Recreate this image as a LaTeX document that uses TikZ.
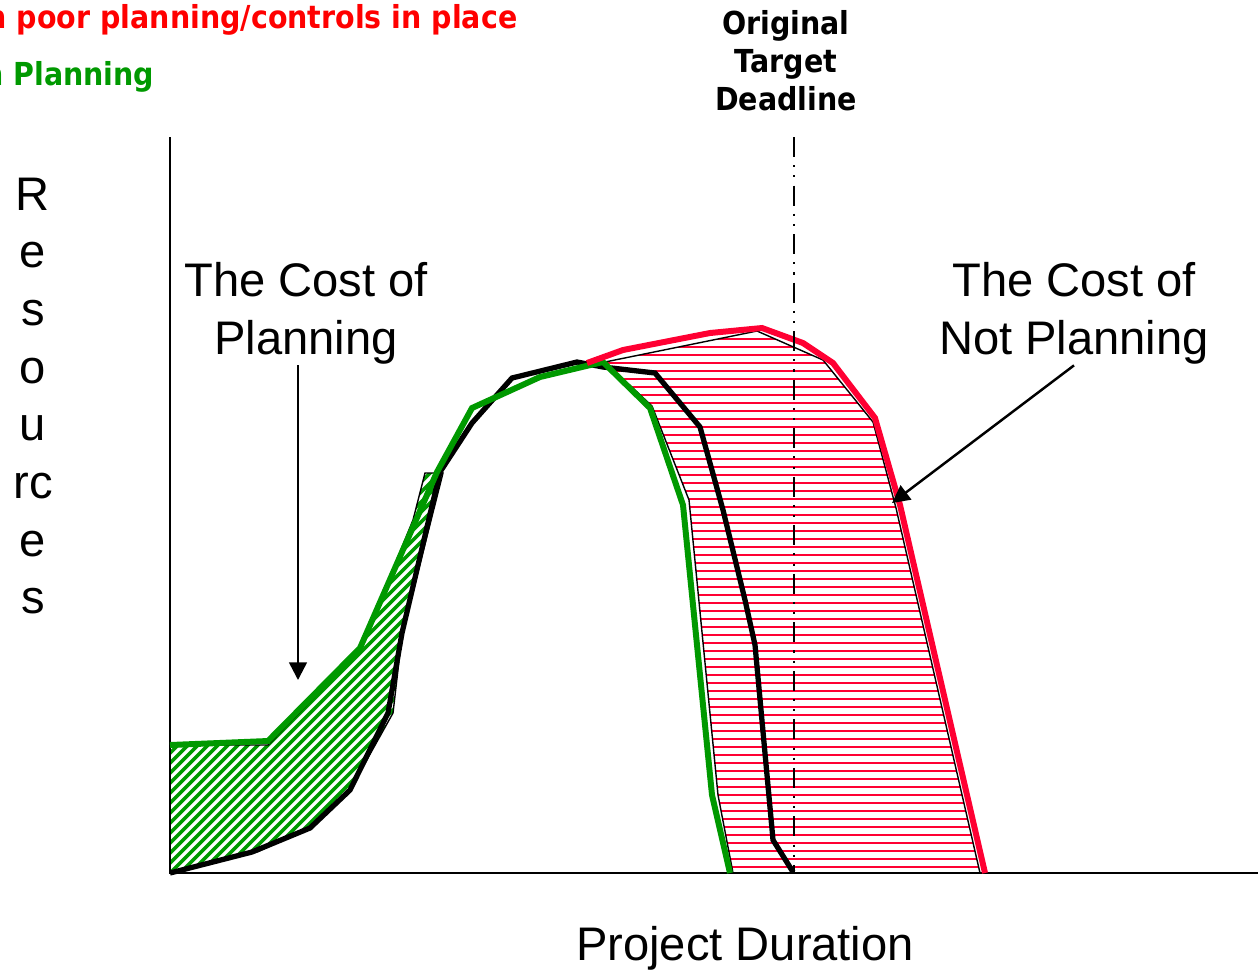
\documentclass[tikz,border=0pt]{standalone}
\usepackage{fontspec}
\setmainfont{Liberation Sans}
\newfontfamily\tahoma[FakeStretch=0.9]{DejaVu Sans}
\usetikzlibrary{arrows.meta}
\definecolor{planred}{RGB}{255,0,51}
\definecolor{textred}{RGB}{255,0,0}
\definecolor{plangreen}{RGB}{0,153,0}
\tikzset{
  bigtext/.style={font=\fontsize{13.4}{16.5}\selectfont, align=center, inner sep=0pt},
  boldtext/.style={font=\tahoma\bfseries\fontsize{9}{10.7}\selectfont, inner sep=0pt},
  hatchline/.style={line width=1pt},
}
\begin{document}
\begin{tikzpicture}[x=0.01cm,y=-0.01cm,>={Triangle[length=5pt,width=5pt]}]
\useasboundingbox (0,0) rectangle (1258,972);
% cost of planning
\begin{scope}
\clip (170,873) -- (170,745) -- (268,745) -- (360,650) -- (413,520) -- (425,473) -- (443,473) -- (402,635) -- (393,713) -- (350,790) -- (310,828) -- (257,852) -- cycle;
\foreach \c in {-240,-230,...,450} \draw[plangreen,hatchline] (\c,873) -- ++(420,-420);
\end{scope}
\draw[line width=0.4pt] (170,873) -- (170,745) -- (268,745) -- (360,650) -- (413,520) -- (425,473) -- (443,473) -- (402,635) -- (393,713) -- (350,790) -- (310,828) -- (257,852) -- cycle;
% cost of not planning
\begin{scope}
\clip (605,362) -- (652,406) -- (689,500) -- (718,795) -- (733,873) -- (980,873) -- (896,508) -- (873,422) -- (823,360) -- (757,331) -- cycle;
\foreach \y in {867,859,...,330} \draw[planred,line width=0.5pt] (600,\y) -- (990,\y);
\end{scope}
\draw[line width=0.4pt] (605,362) -- (652,406) -- (689,500) -- (718,795) -- (733,873) -- (980,873) -- (896,508) -- (873,422) -- (823,360) -- (757,331) -- cycle;
% axes
\draw[line width=0.6pt] (170,137) -- (170,873) -- (1258,873);
% curves
\draw[line width=1.5pt] (170,873) -- (252,852) -- (310,828) -- (350,790) -- (388,713) -- (402,633) -- (440,472) -- (472,423) -- (512,378) -- (577,362) -- (603,367) -- (655,373) -- (700,427) -- (723,510) -- (745,600) -- (755,645) -- (773,840) -- (793,872);
\draw[plangreen,line width=1.7pt] (170,745) -- (268,741) -- (360,648) -- (437,472) -- (472,408) -- (540,377) -- (603,362) -- (650,408) -- (683,505) -- (712,795) -- (730,873);
\draw[planred,line width=1.7pt] (587,363) -- (623,350) -- (710,333) -- (762,328) -- (803,343) -- (833,363) -- (875,418) -- (900,505) -- (985,873);
% deadline
\draw[line width=0.7pt,dash pattern=on 5.7pt off 2.3pt on 0.6pt off 2.3pt on 0.6pt off 2.3pt] (794,137) -- (794,873);
% labels
\node[boldtext,textred,anchor=base east] (poortext) at (518,28) {n poor planning/controls in place};
\node[boldtext,plangreen,anchor=base east] (plantext) at (155,85) {n Planning};
\node[boldtext,align=center,anchor=north] (deadline) at (786,10) {Original\\Target\\Deadline};
\foreach \ch [count=\i] in {R,e,s,o,u,rc,e,s}
  \node[bigtext,anchor=base] (res\i) at (33,{210+57.7*(\i-1)}) {\ch};
\node[bigtext,anchor=north] (cost) at (306,262) {The Cost of\\Planning};
\node[bigtext,anchor=north] (nocost) at (1074,262) {The Cost of\\Not Planning};
\node[bigtext,anchor=base] (duration) at (745,960) {Project Duration};
% arrows
\coordinate (costtip) at (298,680);
\draw[->,line width=0.7pt] (costtip |- cost.south) -- (costtip);
\coordinate (nocosttip) at (892,503);
\draw[->,line width=0.7pt] (nocost.south) -- (nocosttip);
\end{tikzpicture}
\end{document}
